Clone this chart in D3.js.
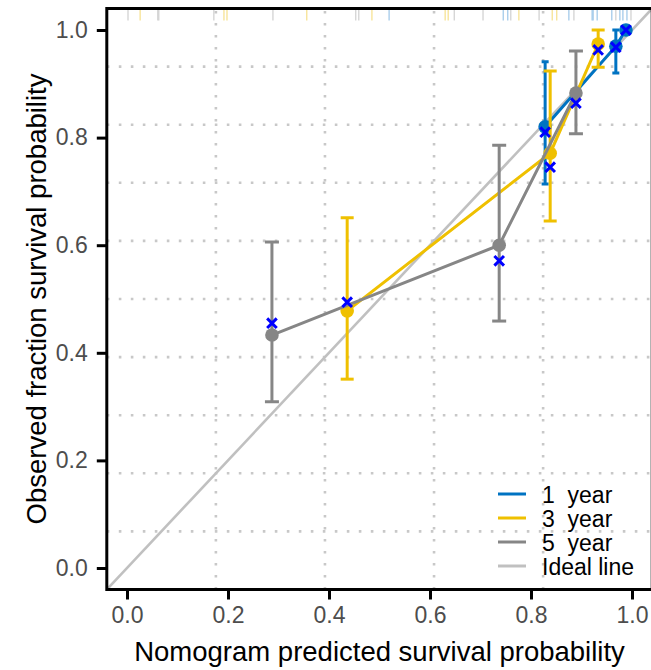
<!DOCTYPE html>
<html>
<head>
<meta charset="utf-8">
<script src="https://cdn.jsdelivr.net/npm/d3@7"></script>
<style>
  body { margin: 0; background: #fff; }
  text { font-family: "Liberation Sans", Arial, sans-serif; }
</style>
</head>
<body>
<div id="chart"></div>
<script>
// calibration groups
var seriesNames = ["1  year", "3  year", "5  year"];
var seriesColors = ["#0073C2", "#EFC000", "#868686"];

var pred1 = [0.828, 0.968, 0.988];
var obs1  = [0.820, 0.970, 1.000];
var lo1   = [0.714, 0.920, 0.996];
var hi1   = [0.941, 1.000, 1.000];
var corr1 = [0.810, 0.968, 1.000];

var pred3 = [0.436, 0.838, 0.933];
var obs3  = [0.478, 0.771, 0.974];
var lo3   = [0.351, 0.645, 0.931];
var hi3   = [0.651, 0.924, 1.000];
var corr3 = [0.494, 0.745, 0.963];

var pred5 = [0.287, 0.737, 0.889];
var obs5  = [0.433, 0.600, 0.883];
var lo5   = [0.309, 0.459, 0.807];
var hi5   = [0.606, 0.786, 0.961];
var corr5 = [0.455, 0.571, 0.864];

// distribution of predicted values (rug at the top)
var rug1 = [0.519, 0.745, 0.754, 0.875, 0.921, 0.923, 0.931, 0.960, 0.976, 0.982, 0.990];
var rug3 = [0.026, 0.192, 0.198, 0.356, 0.485, 0.630, 0.636, 0.776, 0.842, 0.851];
var rug5 = [0.002, 0.061, 0.063, 0.172, 0.289, 0.453, 0.459, 0.648, 0.705, 0.760, 0.816, 0.885, 0.968, 0.998];
var rugColors = ["#9cc6e8", "#f6e08a", "#cfcfcf"];

var tickVals = [0, 0.2, 0.4, 0.6, 0.8, 1.0];
var legendNames = ["1  year", "3  year", "5  year", "Ideal line"];
var idealColor = "#c0c0c0";

var width = 651, height = 670;
var lim = [-0.04, 1.04];

var x = d3.scaleLinear().domain(lim).range([106.8, 652.2]);
var y = d3.scaleLinear().domain(lim).range([589.5, 8.5]);

var svg = d3.select("#chart").append("svg")
    .attr("width", width)
    .attr("height", height);

svg.append("defs").append("clipPath").attr("id", "panel")
  .append("rect")
    .attr("x", x(lim[0])).attr("y", y(lim[1]))
    .attr("width", x(lim[1]) - x(lim[0]))
    .attr("height", y(lim[0]) - y(lim[1]));

// grid like R's grid(): equal cells over the plot region
var gx = d3.range(1, 5).map(function(k) { return lim[0] + k * (lim[1] - lim[0]) / 5; });
var gy = d3.range(1, 10).map(function(k) { return lim[0] + k * (lim[1] - lim[0]) / 10; });

var grid = svg.append("g").attr("stroke", "#c8c8c8")
    .attr("stroke-width", 2.6).attr("stroke-dasharray", "2.6 9.4");
grid.selectAll(".gx").data(gx).enter().append("line")
    .attr("x1", function(d) { return x(d); }).attr("x2", function(d) { return x(d); })
    .attr("y1", y(lim[0])).attr("y2", y(lim[1]));
grid.selectAll(".gy").data(gy).enter().append("line")
    .attr("y1", function(d) { return y(d); }).attr("y2", function(d) { return y(d); })
    .attr("x1", x(lim[0])).attr("x2", x(lim[1]));

var plot = svg.append("g").attr("clip-path", "url(#panel)");

// ideal line
plot.append("line")
    .attr("x1", x(lim[0])).attr("y1", y(lim[0]))
    .attr("x2", x(lim[1])).attr("y2", y(lim[1]))
    .attr("stroke", idealColor).attr("stroke-width", 2.6);

// rug
[rug1, rug3, rug5].forEach(function(r, i) {
  plot.selectAll(".rug" + i).data(r).enter().append("line")
      .attr("x1", function(d) { return x(d); }).attr("x2", function(d) { return x(d); })
      .attr("y1", y(lim[1]) + 1).attr("y2", y(lim[1]) + 12)
      .attr("stroke", rugColors[i]).attr("stroke-width", 1.2);
});

var groups = [
  {pred: pred1, obs: obs1, lo: lo1, hi: hi1, corr: corr1, cap: 3.5},
  {pred: pred3, obs: obs3, lo: lo3, hi: hi3, corr: corr3, cap: 6.5},
  {pred: pred5, obs: obs5, lo: lo5, hi: hi5, corr: corr5, cap: 7}
];

var line = d3.line()
    .x(function(d) { return x(d[0]); })
    .y(function(d) { return y(d[1]); });

groups.forEach(function(g, i) {
  var col = seriesColors[i];
  var gg = plot.append("g");
  var idx = d3.range(g.pred.length);

  // error bars
  gg.selectAll(".eb").data(idx).enter().append("line")
      .attr("x1", function(j) { return x(g.pred[j]); }).attr("x2", function(j) { return x(g.pred[j]); })
      .attr("y1", function(j) { return y(g.lo[j]); }).attr("y2", function(j) { return y(g.hi[j]); })
      .attr("stroke", col).attr("stroke-width", 3);
  ["lo", "hi"].forEach(function(k) {
    gg.selectAll(".cap" + k).data(idx).enter().append("line")
        .attr("x1", function(j) { return x(g.pred[j]) - g.cap; })
        .attr("x2", function(j) { return x(g.pred[j]) + g.cap; })
        .attr("y1", function(j) { return y(g[k][j]); })
        .attr("y2", function(j) { return y(g[k][j]); })
        .attr("stroke", col).attr("stroke-width", 3);
  });

  gg.append("path")
      .datum(idx.map(function(j) { return [g.pred[j], g.obs[j]]; }))
      .attr("d", line)
      .attr("fill", "none").attr("stroke", col).attr("stroke-width", 3);

  gg.selectAll(".pt").data(idx).enter().append("circle")
      .attr("cx", function(j) { return x(g.pred[j]); })
      .attr("cy", function(j) { return y(g.obs[j]); })
      .attr("r", 6.8).attr("fill", col);
});

// bias-corrected estimates
groups.forEach(function(g) {
  var s = 4.8;
  plot.selectAll(null).data(d3.range(g.pred.length)).enter().append("path")
      .attr("d", function(j) {
        var cx = x(g.pred[j]), cy = y(g.corr[j]);
        return "M" + (cx - s) + "," + (cy - s) + "L" + (cx + s) + "," + (cy + s) +
               "M" + (cx - s) + "," + (cy + s) + "L" + (cx + s) + "," + (cy - s);
      })
      .attr("stroke", "#0000FF").attr("stroke-width", 3).attr("fill", "none");
});

// axes
var xAxis = svg.append("g")
    .attr("transform", "translate(0," + y(lim[0]) + ")")
    .call(d3.axisBottom(x).tickValues(tickVals).tickFormat(d3.format(".1f"))
      .tickSize(10).tickPadding(7));
var yAxis = svg.append("g")
    .attr("transform", "translate(" + x(lim[0]) + ",0)")
    .call(d3.axisLeft(y).tickValues(tickVals).tickFormat(d3.format(".1f"))
      .tickSize(10).tickPadding(9));
[xAxis, yAxis].forEach(function(a) {
  a.select(".domain").remove();
  a.selectAll(".tick line").attr("stroke", "#000").attr("stroke-width", 3);
  a.selectAll(".tick text").attr("fill", "#4d4d4d")
      .style("font-size", "23px").style("font-family", "'Liberation Sans', Arial, sans-serif");
});

// box
svg.append("rect")
    .attr("x", x(lim[0])).attr("y", y(lim[1]))
    .attr("width", x(lim[1]) - x(lim[0]))
    .attr("height", y(lim[0]) - y(lim[1]))
    .attr("fill", "none").attr("stroke", "#000").attr("stroke-width", 3);

// titles
svg.append("text")
    .attr("x", (x(lim[0]) + x(lim[1])) / 2).attr("y", 661)
    .attr("text-anchor", "middle").style("font-size", "27.5px")
    .text("Nomogram predicted survival probability");
svg.append("text")
    .attr("transform", "translate(46," + (y(lim[0]) + y(lim[1])) / 2 + ") rotate(-90)")
    .attr("text-anchor", "middle").style("font-size", "27.5px")
    .text("Observed fraction survival probability");

// legend
var legColors = seriesColors.concat([idealColor]);
var leg = svg.append("g").attr("transform", "translate(498,494)");
legendNames.forEach(function(n, i) {
  leg.append("line")
      .attr("x1", 0).attr("x2", 28).attr("y1", i * 24).attr("y2", i * 24)
      .attr("stroke", legColors[i]).attr("stroke-width", 3);
  leg.append("text")
      .attr("x", 44).attr("y", i * 24 + 8.5)
      .style("font-size", "23px").style("white-space", "pre")
      .attr("xml:space", "preserve")
      .text(n);
});
</script>
</body>
</html>
